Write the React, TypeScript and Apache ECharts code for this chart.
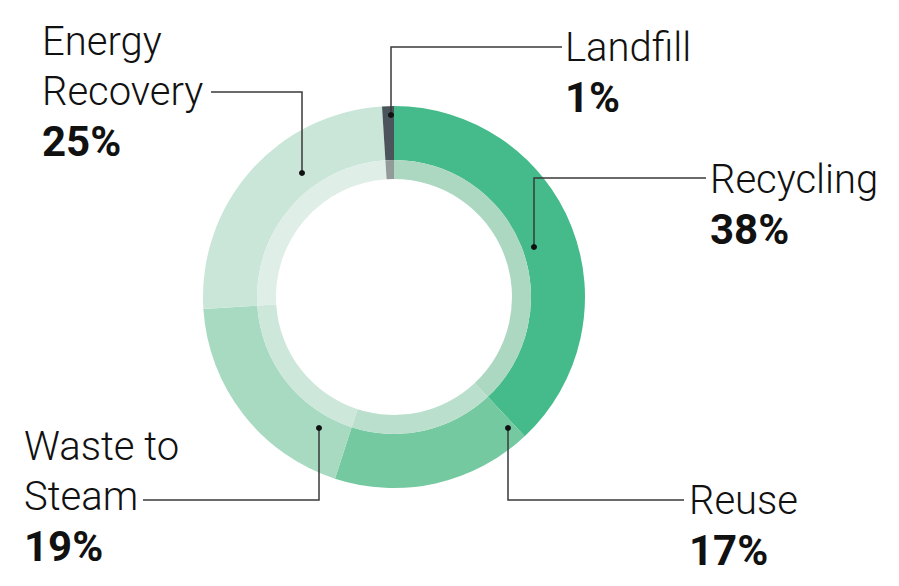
import React, { useEffect, useRef } from 'react';
import * as echarts from 'echarts';

const categories = ['Recycling', 'Reuse', 'Waste to Steam', 'Energy Recovery', 'Landfill'];
const shares = [38, 17, 19, 25, 1];
const colors = ['#45bb8c', '#75c9a0', '#a7dac1', '#c9e6d8', '#4a545a'];
const innerColors = ['#acd7c1', '#badfcc', '#cde7da', '#dfeee7', '#939a9a'];

// where each label sits, and its elbow leader line (dot -> elbow -> text)
const labelSpots: { x: number; y: number; line: number[][] }[] = [
  { x: 710, y: 154, line: [[534, 247], [534, 178], [706, 178]] },
  { x: 689, y: 475, line: [[508, 428], [508, 500], [684, 500]] },
  { x: 24, y: 421, line: [[319, 428], [319, 500], [143, 500]] },
  { x: 42, y: 16, line: [[302, 173], [302, 92], [211, 92]] },
  { x: 565, y: 22, line: [[391, 115], [391, 47], [562, 47]] },
];

const wrapName = (name: string) => {
  const i = name.lastIndexOf(' ');
  return i > 0 ? [name.slice(0, i), name.slice(i + 1)] : [name];
};

const App: React.FC = () => {
  const chartRef = useRef<HTMLDivElement>(null);

  useEffect(() => {
    document.body.style.margin = '0';
    const chart = echarts.init(chartRef.current!, undefined, { renderer: 'svg' });

    const option = {
      animation: false,
      backgroundColor: '#ffffff',
      series: [
        {
          type: 'pie',
          center: [394, 297],
          radius: [137, 191],
          startAngle: 90,
          avoidLabelOverlap: false,
          silent: true,
          data: categories.map((name, i) => ({
            name,
            value: shares[i],
            itemStyle: { color: colors[i] },
          })),
          label: {
            show: true,
            position: 'outside',
            alignTo: 'none',
            formatter: (p: any) =>
              wrapName(p.name).map(s => `{n|${s}}`).join('\n') + `\n{v|${p.value}%}`,
            rich: {
              n: { fontFamily: 'Roboto', fontWeight: 300, fontSize: 40, lineHeight: 50, color: '#111' },
              v: { fontFamily: 'Roboto', fontWeight: 700, fontSize: 42, lineHeight: 50, color: '#111' },
            },
          },
          labelLine: { show: false },
          labelLayout: (p: any) => {
            const s = labelSpots[p.dataIndex];
            return { x: s.x, y: s.y, align: 'left', verticalAlign: 'top' };
          },
        },
        {
          type: 'pie',
          center: [394, 297],
          radius: [118, 137],
          startAngle: 90,
          silent: true,
          label: { show: false },
          labelLine: { show: false },
          data: categories.map((name, i) => ({
            name,
            value: shares[i],
            itemStyle: { color: innerColors[i] },
          })),
        },
      ],
      graphic: [
        ...labelSpots.map(s => ({
          type: 'polyline',
          shape: { points: s.line },
          style: { stroke: '#3a3a3a', lineWidth: 1.5, fill: 'none' },
          z: 100,
        })),
        ...labelSpots.map(s => ({
          type: 'circle',
          shape: { cx: s.line[0][0], cy: s.line[0][1], r: 3 },
          style: { fill: '#111' },
          z: 101,
        })),
      ],
    };

    chart.setOption(option);

    const handleResize = () => chart.resize();
    window.addEventListener('resize', handleResize);

    return () => {
      chart.dispose();
      window.removeEventListener('resize', handleResize);
    };
  }, []);

  return <div ref={chartRef} style={{ width: '899px', height: '586px' }} />;
};

export default App;
